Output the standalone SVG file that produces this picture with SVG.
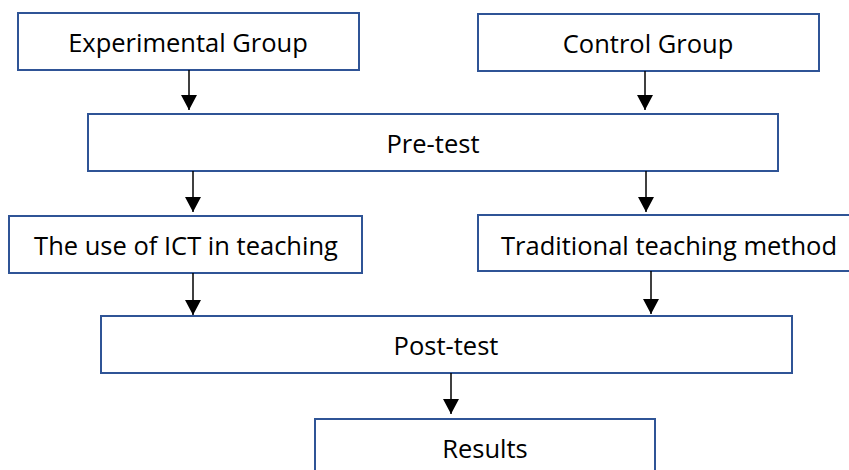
<svg xmlns="http://www.w3.org/2000/svg" width="849" height="470" viewBox="0 0 849 470">
<style>
.box{fill:#fff;stroke:#2F5496;stroke-width:2}
.lbl{font-family:"Open Sans","Liberation Sans",sans-serif;font-size:25.5px;fill:#000;text-anchor:middle}
.conn{stroke:#000;stroke-width:1.5;fill:none}
</style>
<defs>
<marker id="arr" markerUnits="userSpaceOnUse" markerWidth="16" markerHeight="16" viewBox="0 0 16 16" refX="15" refY="8" orient="auto">
<path d="M0,0 L15,8 L0,16 Z" fill="#000"/>
</marker>
</defs>
<rect width="849" height="470" fill="#fff"/>
<g id="experimental">
<rect class="box" x="18" y="13" width="341" height="57"/>
<text class="lbl" x="188" y="52">Experimental Group</text>
</g>
<g id="control">
<rect class="box" x="478" y="14" width="341" height="57"/>
<text class="lbl" x="648" y="53">Control Group</text>
</g>
<g id="pretest">
<rect class="box" x="88" y="114" width="690" height="57"/>
<text class="lbl" x="433" y="153">Pre-test</text>
</g>
<g id="ict">
<rect class="box" x="9" y="216" width="353" height="57"/>
<text class="lbl" x="186" y="255">The use of ICT in teaching</text>
</g>
<g id="traditional">
<rect class="box" x="478" y="215" width="400" height="56"/>
<text class="lbl" x="669" y="255">Traditional teaching method</text>
</g>
<g id="posttest">
<rect class="box" x="101" y="316" width="691" height="57"/>
<text class="lbl" x="446" y="355">Post-test</text>
</g>
<g id="results">
<rect class="box" x="315" y="419" width="340" height="70"/>
<text class="lbl" x="485" y="458">Results</text>
</g>
<g id="connectors">
<line class="conn" x1="189" y1="70" x2="189" y2="110" marker-end="url(#arr)"/>
<line class="conn" x1="645" y1="71" x2="645" y2="110" marker-end="url(#arr)"/>
<line class="conn" x1="193" y1="171" x2="193" y2="212" marker-end="url(#arr)"/>
<line class="conn" x1="646" y1="171" x2="646" y2="212" marker-end="url(#arr)"/>
<line class="conn" x1="193" y1="273" x2="193" y2="315" marker-end="url(#arr)"/>
<line class="conn" x1="651" y1="271" x2="651" y2="314" marker-end="url(#arr)"/>
<line class="conn" x1="451" y1="373" x2="451" y2="414" marker-end="url(#arr)"/>
</g>
</svg>
